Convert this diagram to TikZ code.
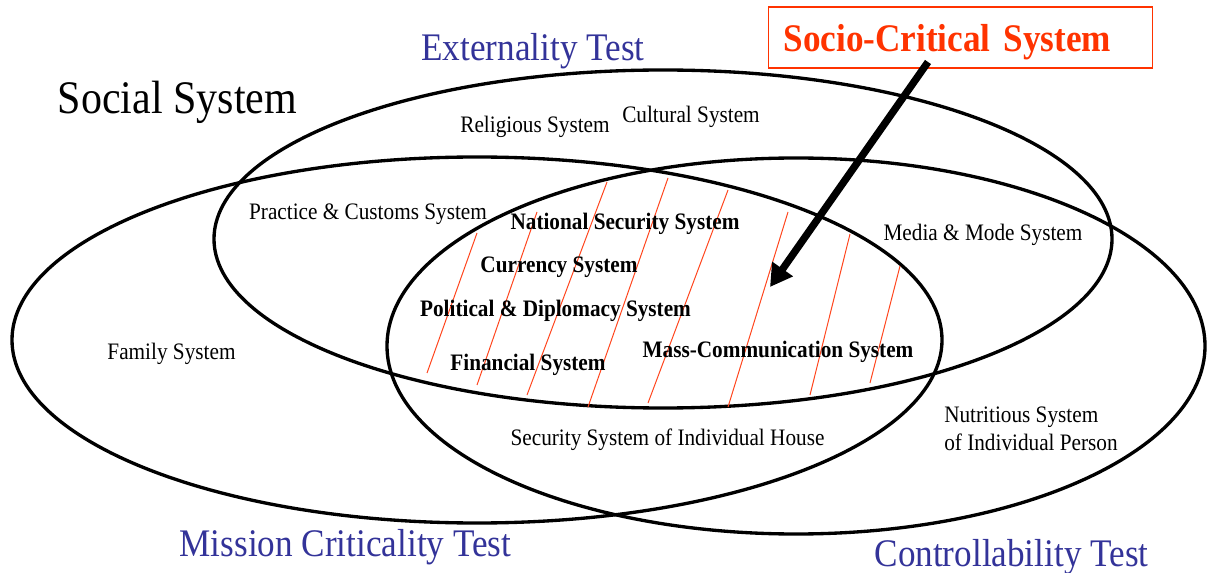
\documentclass[tikz,border=0pt]{standalone}
\usepackage{fontspec}
\setmainfont{Liberation Serif}[FakeStretch=0.9]
\usetikzlibrary{arrows.meta}

\definecolor{testblue}{RGB}{51,51,153}
\definecolor{socred}{RGB}{255,51,0}
\definecolor{hatchred}{RGB}{255,70,30}

\tikzset{
  setring/.style={line width=2.5pt},
  hatchline/.style={color=hatchred, line width=0.75pt},
  sublabel/.style={anchor=base, inner sep=0pt, font=\fontsize{17.7}{20.3}\selectfont},
  corelabel/.style={sublabel, font=\fontsize{17.7}{20.3}\selectfont\bfseries},
  testlabel/.style={anchor=base, inner sep=0pt, text=testblue, font=\fontsize{29.3}{33}\selectfont},
  socbox/.style={draw=socred, line width=1pt, text=socred, anchor=base west, align=left,
    inner xsep=11.25pt, inner ysep=0pt, text width=265.5pt, text height=33.75pt, text depth=12pt,
    font=\fontsize{29.3}{33}\selectfont\bfseries},
  pointer/.style={line width=5.5pt, -{Triangle[length=16.5pt,width=18pt]}},
}

\begin{document}
\begin{tikzpicture}[x=0.75pt,y=0.75pt,yscale=-1,xscale=1]
\useasboundingbox (0,0) rectangle (1209,573);

%Shape: Ellipse [Mission Criticality]
\draw [setring] (477,340) ellipse [x radius=465, y radius=183];
%Shape: Ellipse [Controllability]
\draw [setring] (796,346) ellipse [x radius=409, y radius=188];
%Shape: Ellipse [Externality]
\draw [setring] (663,239) ellipse [x radius=449, y radius=169];

%Hatching of the common part
\foreach \xa/\ya/\xb/\yb in {477/233/427/373, 537/212/477/385, 607/182/527/395, 668/178/588/407,
    728/190/648/403, 788/212/728/407, 850/234/810/395, 900/266/870/383}
  \draw [hatchline] (\xa,\ya) -- (\xb,\yb);

% Text Node
\node [anchor=base, inner sep=0pt, font=\fontsize{35}{40}\selectfont] (social) at (177.5,114) {Social System};
% Text Node
\node [testlabel] (externality) at (533,61) {Externality Test};
% Text Node
\node [testlabel] (mission) at (345.5,556) {Mission Criticality Test};
% Text Node
\node [testlabel] (controllability) at (1011.5,566) {Controllability Test};

% Text Node
\node [sublabel] (religious) at (535,133) {Religious System};
% Text Node
\node [sublabel] (cultural) at (691,123) {Cultural System};
% Text Node
\node [sublabel] (customs) at (368,220) {Practice \& Customs System};
% Text Node
\node [sublabel] (media) at (983,241) {Media \& Mode System};
% Text Node
\node [sublabel] (family) at (171.5,359) {Family System};
% Text Node
\node [sublabel] (house) at (667.5,445) {Security System of Individual House};
% Text Node
\node [sublabel, anchor=base west, align=left] (nutritious) at (944,450) {Nutritious System\\of Individual Person};

% Text Node
\node [corelabel] (national) at (625,230) {National Security System};
% Text Node
\node [corelabel] (currency) at (559,273) {Currency System};
% Text Node
\node [corelabel] (political) at (555.5,317) {Political \& Diplomacy System};
% Text Node
\node [corelabel] (financial) at (528,370) {Financial System};
% Text Node
\node [corelabel] (masscomm) at (778,358) {Mass-Communication System};

% Text Node
\node [socbox] (socio) at (768,52) {Socio-Critical System};

%Straight Lines [pointer]
\coordinate (pointertail) at (928,62);
\coordinate (pointertip) at (770,287);
\draw [pointer] (pointertail) -- (pointertip);

\end{tikzpicture}
\end{document}
